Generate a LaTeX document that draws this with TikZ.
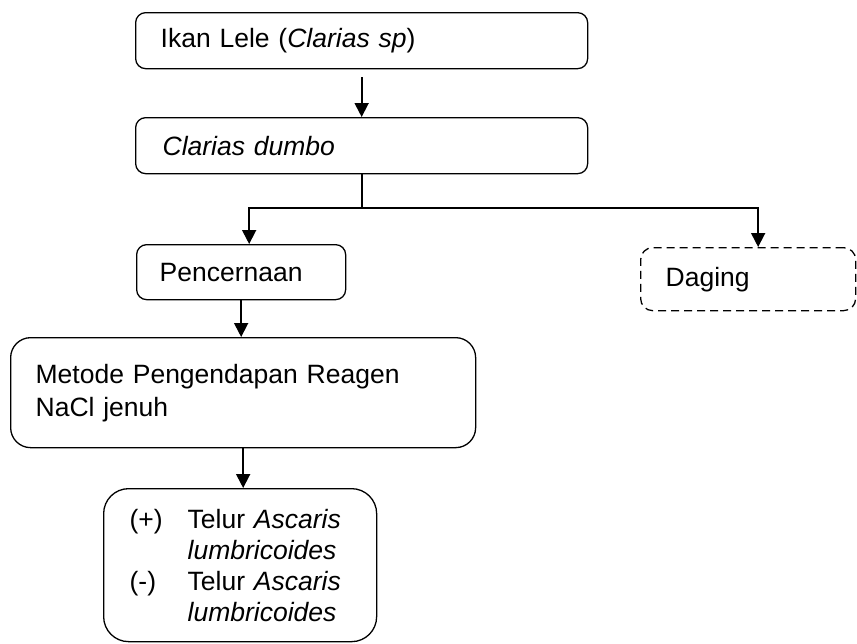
\documentclass[tikz,border=0pt]{standalone}
\usepackage{fontspec}
\setmainfont{Liberation Sans}
\usetikzlibrary{arrows.meta}

\begin{document}
\begin{tikzpicture}[x=1pt,y=-1pt,
  box/.style={draw, line width=1.3pt, rounded corners=10pt, anchor=north west,
    align=left, font=\fontsize{26.5}{33}\selectfont},
  arrow/.style={line width=1.8pt, -{Triangle[length=14pt,width=14pt]}}]
  \useasboundingbox (0,0) rectangle (857,643);
  \node[box, minimum height=56pt, inner xsep=25pt, text width=402pt] (ikan) at (135,12) {Ikan Lele (\textit{Clarias sp})};
  \node[box, minimum height=56pt, inner xsep=27pt, text width=398pt] (dumbo) at (135,117) {\textit{Clarias dumbo}};
  \node[box, minimum height=55pt, inner xsep=23pt, text width=163pt] (cerna) at (136,244) {Pencernaan};
  \node[box, dashed, dash pattern=on 8pt off 5pt, rounded corners=12pt, minimum height=63pt, inner xsep=25pt, text width=165pt] (daging) at (640,247) {Daging};
  \node[box, rounded corners=20pt, minimum height=110pt, inner xsep=25pt, text width=415pt] (metode) at (10,337) {Metode Pengendapan Reagen\\NaCl jenuh};
  \node[box, rounded corners=25pt, minimum height=153pt, inner xsep=26pt, text width=221pt,
    font=\fontsize{26.5}{31}\selectfont] (telur) at (103,488)
    {\makebox[58pt][l]{(+)}Telur \textit{Ascaris}\\
     \hspace*{58pt}\textit{lumbricoides}\\
     \makebox[58pt][l]{(-)}Telur \textit{Ascaris}\\
     \hspace*{58pt}\textit{lumbricoides}};
  \coordinate (split) at ([yshift=-34pt]dumbo.south);
  \draw[arrow] ([yshift=-8pt]ikan.south) -- (dumbo.north);
  \draw[line width=1.8pt] (dumbo.south) -- (split);
  \draw[arrow] (split) -| ([xshift=8pt]cerna.north);
  \draw[arrow] (split) -| ([xshift=10pt]daging.north);
  \draw[arrow] (cerna.south) -- (cerna.south |- metode.north);
  \draw[arrow] (metode.south) -- (metode.south |- telur.north);
\end{tikzpicture}
\end{document}
